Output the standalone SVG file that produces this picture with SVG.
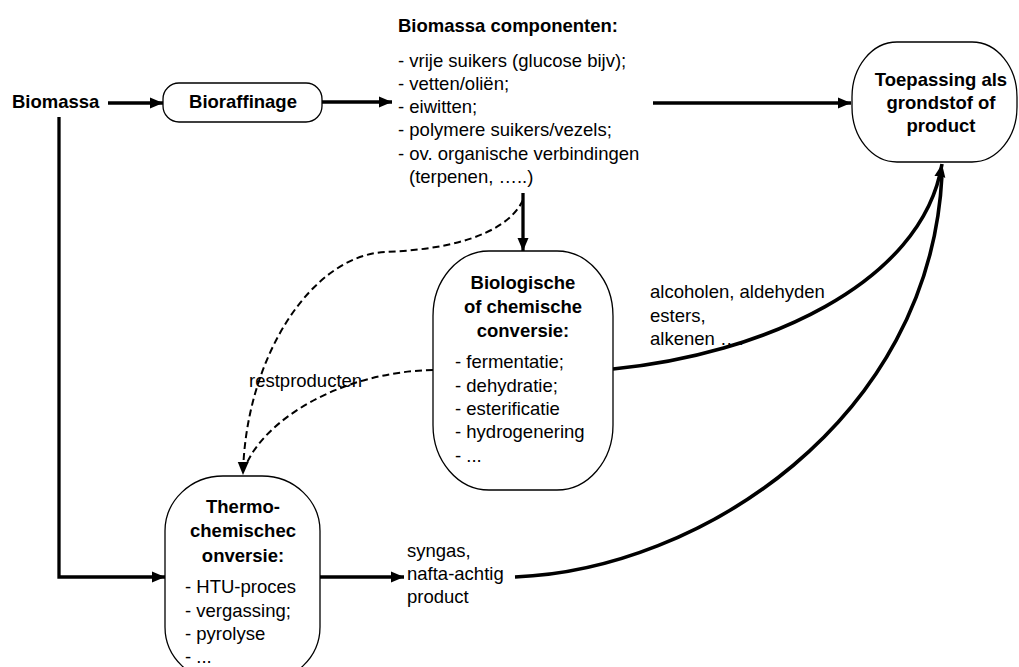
<svg xmlns="http://www.w3.org/2000/svg" width="1019" height="667" viewBox="0 0 1019 667">
<style>
.t{font-family:"Liberation Sans",Arial,sans-serif;font-size:18.5px;fill:#000}
.b{font-weight:bold}
.c{text-anchor:middle}
.box{fill:#fff;stroke:#000;stroke-width:1.3}
.ln{fill:none;stroke:#000;stroke-width:3.3}
.cv{fill:none;stroke:#000;stroke-width:3.6}
.ds{fill:none;stroke:#000;stroke-width:2;stroke-dasharray:7 4}
</style>
<defs>
<marker id="ah" markerUnits="userSpaceOnUse" markerWidth="14" markerHeight="12" refX="13" refY="6" orient="auto">
<path d="M0,0.5 L13,6 L0,11.5 z" fill="#000"/>
</marker>
</defs>
<rect width="1019" height="667" fill="#fff"/>
<g id="connectors">
<line class="ln" x1="108" y1="103" x2="163" y2="103" marker-end="url(#ah)"/>
<line class="ln" x1="322" y1="102" x2="392" y2="102" marker-end="url(#ah)"/>
<line class="ln" x1="653" y1="103" x2="851" y2="103" marker-end="url(#ah)"/>
<line class="ln" x1="523" y1="193" x2="523" y2="251" marker-end="url(#ah)"/>
<polyline class="ln" points="59,117 59,577 165,577" marker-end="url(#ah)"/>
<line class="ln" x1="320" y1="577" x2="404" y2="577" marker-end="url(#ah)"/>
<path class="cv" d="M613,369 C760,355 922,285 942,164" marker-end="url(#ah)"/>
<path class="cv" d="M515,577 C700,570 930,420 942,175"/>
<path class="ds" d="M523,200 C505,238 440,250 385,252 C310,256 245,360 243,475" marker-end="url(#ah)"/>
<path class="ds" d="M433,370 C340,372 265,420 246,465"/>
</g>
<g id="biomassa">
<text class="t b" x="12" y="108">Biomassa</text>
</g>
<g id="bioraffinage">
<rect class="box" x="163" y="83" width="159" height="39" rx="16"/>
<text class="t b c" x="243" y="108">Bioraffinage</text>
</g>
<g id="componenten">
<text class="t b" x="398" y="32">Biomassa componenten:</text>
<text class="t" x="398" y="67">- vrije suikers (glucose bijv);</text>
<text class="t" x="398" y="90">- vetten/oliën;</text>
<text class="t" x="398" y="113">- eiwitten;</text>
<text class="t" x="398" y="136">- polymere suikers/vezels;</text>
<text class="t" x="398" y="160">- ov. organische verbindingen</text>
<text class="t" x="409" y="183">(terpenen, …..)</text>
</g>
<g id="toepassing">
<rect class="box" x="852" y="42" width="165" height="120" rx="45" ry="55"/>
<text class="t b c" x="941" y="86">Toepassing als</text>
<text class="t b c" x="941" y="109">grondstof of</text>
<text class="t b c" x="941" y="132">product</text>
</g>
<g id="biologisch">
<rect class="box" x="433" y="251" width="180" height="239" rx="56" ry="65"/>
<text class="t b c" x="523" y="289">Biologische</text>
<text class="t b c" x="523" y="313">of chemische</text>
<text class="t b c" x="523" y="337">conversie:</text>
<text class="t" x="455" y="368">- fermentatie;</text>
<text class="t" x="455" y="392">- dehydratie;</text>
<text class="t" x="455" y="415">- esterificatie</text>
<text class="t" x="455" y="438">- hydrogenering</text>
<text class="t" x="455" y="462">- ...</text>
</g>
<g id="thermo">
<rect class="box" x="165" y="476" width="155" height="206" rx="58" ry="55"/>
<text class="t b c" x="243" y="513">Thermo-</text>
<text class="t b c" x="243" y="537">chemischec</text>
<text class="t b c" x="243" y="562">onversie:</text>
<text class="t" x="185" y="593">- HTU-proces</text>
<text class="t" x="185" y="617">- vergassing;</text>
<text class="t" x="185" y="640">- pyrolyse</text>
<text class="t" x="185" y="663">- ...</text>
</g>
<g id="labels">
<text class="t" x="249" y="387">restproducten</text>
<text class="t" x="650" y="298">alcoholen, aldehyden</text>
<text class="t" x="650" y="322">esters,</text>
<text class="t" x="650" y="345">alkenen ….</text>
<text class="t" x="407" y="557">syngas,</text>
<text class="t" x="407" y="580">nafta-achtig</text>
<text class="t" x="407" y="603">product</text>
</g>
</svg>
